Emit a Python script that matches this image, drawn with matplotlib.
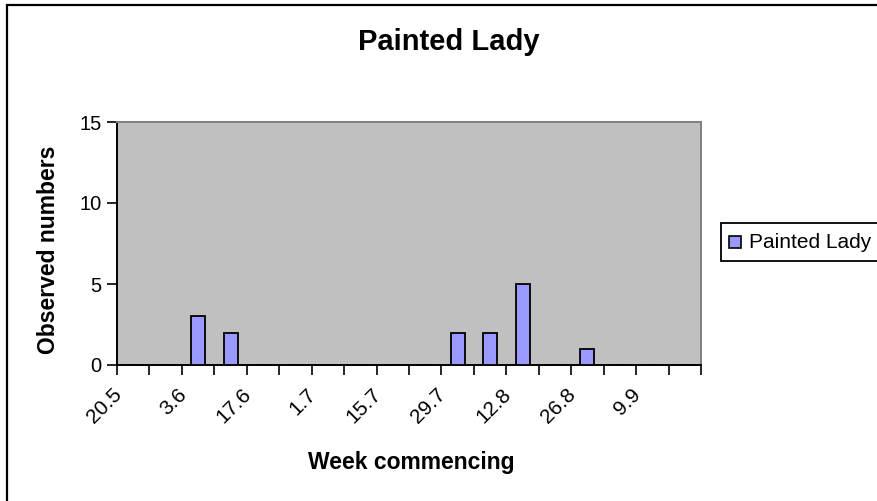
import numpy as np
import matplotlib
matplotlib.use('Agg')
import matplotlib.pyplot as plt
import matplotlib.transforms as mtransforms
from matplotlib.patches import Rectangle
from matplotlib.ticker import FixedLocator, NullFormatter

plt.rcParams['font.family'] = ['Liberation Sans', 'DejaVu Sans']

weeks = ["20.5", "27.5", "3.6", "10.6", "17.6", "24.6", "1.7", "8.7", "15.7",
         "22.7", "29.7", "5.8", "12.8", "19.8", "26.8", "2.9", "9.9", "16.9"]
counts = [0, 0, 3, 2, 0, 0, 0, 0, 0, 0, 2, 2, 5, 0, 1, 0, 0, 0]
series = "Painted Lady"

W, H = 877, 501
fig = plt.figure(figsize=(W / 100, H / 100), dpi=100)

# outer chart border (right/bottom run off the picture)
fig.patches.append(Rectangle((7 / W, -0.2), 1.2, 1.2 - 5 / H,
                             transform=fig.transFigure, fill=False,
                             edgecolor='black', linewidth=1.6))

ax = fig.add_axes([117 / W, 1 - 365 / H, (701 - 117) / W, (365 - 122) / H])
ax.set_facecolor('#C0C0C0')

x = np.arange(len(weeks))
ax.bar(x, counts, width=0.43, color='#9999FF', edgecolor='black',
       linewidth=1.3, zorder=3)

ax.set_xlim(-0.5, len(weeks) - 0.5)
ax.set_ylim(0, 15)
ax.set_yticks([0, 5, 10, 15])
ax.tick_params(axis='y', labelsize=14.5, length=7, width=1.2, pad=4)

# tick marks between categories, labels on every other category
ax.xaxis.set_major_locator(FixedLocator(np.arange(-0.5, len(weeks), 1.0)))
ax.xaxis.set_major_formatter(NullFormatter())
ax.tick_params(axis='x', which='major', length=7, width=1.2)
lab_pos = x[::2] - 0.35
ax.xaxis.set_minor_locator(FixedLocator(lab_pos))
ax.set_xticklabels(weeks[::2], minor=True, rotation=45, ha='right',
                   rotation_mode='anchor', fontsize=15)
ax.tick_params(axis='x', which='minor', length=0, pad=14)
shift = mtransforms.ScaledTranslation(-10 / 100, 0, fig.dpi_scale_trans)
for lbl in ax.xaxis.get_minorticklabels():
    lbl.set_transform(lbl.get_transform() + shift)

for s in ['left', 'bottom']:
    ax.spines[s].set_color('black')
    ax.spines[s].set_linewidth(1.4)
for s in ['top', 'right']:
    ax.spines[s].set_color('#808080')
    ax.spines[s].set_linewidth(1.4)

fig.text(449 / W, 1 - 42 / H, "Painted Lady", ha='center', va='center',
         fontsize=21, fontweight='bold')
fig.text(411 / W, 1 - 463 / H, "Week commencing", ha='center', va='center',
         fontsize=16.5, fontweight='bold')
fig.text(49 / W, 1 - 250 / H, "Observed numbers", ha='center', va='center',
         rotation=90, fontsize=16.5, fontweight='bold')

# legend box
fig.patches.append(Rectangle((721 / W, 1 - 261 / H), 200 / W, 38 / H,
                             transform=fig.transFigure, facecolor='white',
                             edgecolor='black', linewidth=1.3))
fig.patches.append(Rectangle((729 / W, 1 - 248 / H), 12 / W, 12 / H,
                             transform=fig.transFigure, facecolor='#9999FF',
                             edgecolor='black', linewidth=1.2))
fig.text(749 / W, 1 - 242 / H, series, ha='left', va='center', fontsize=15)

fig.savefig('out.png', dpi=100)
